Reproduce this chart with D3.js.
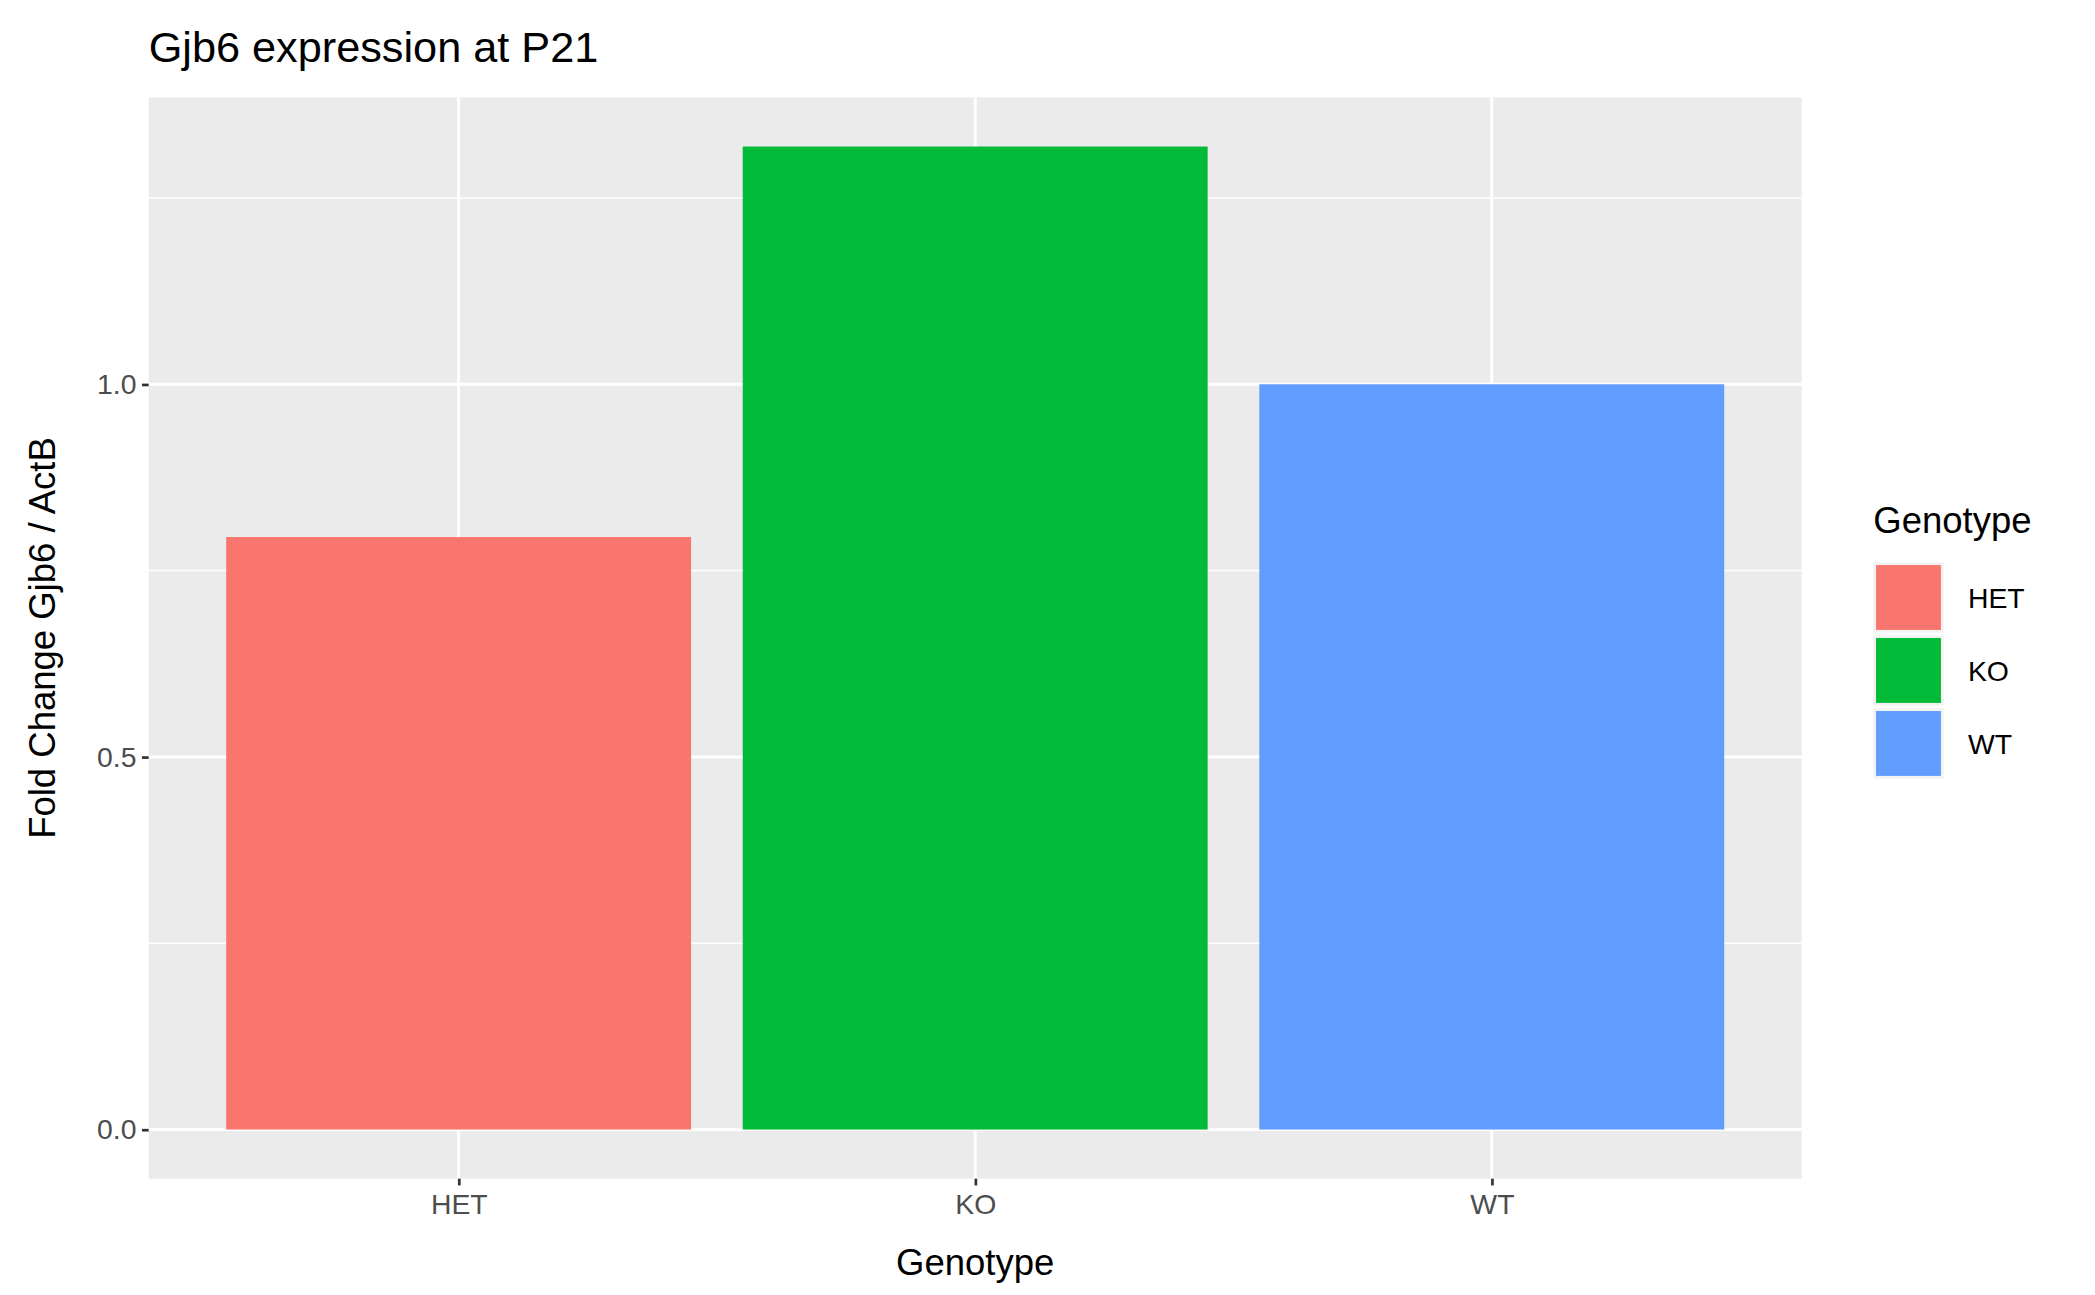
<!DOCTYPE html>
<html><head><meta charset="utf-8">
<script src="https://cdn.jsdelivr.net/npm/d3@7"></script>
<style>body{margin:0;background:#fff}text{font-family:"Liberation Sans",Arial,sans-serif}</style>
</head><body>
<svg id="c" width="2095" height="1295" viewBox="0 0 1550 958"></svg>
<script>
const categories = ["HET","KO","WT"];
const values = [0.795, 1.319, 1.0];
const colors = ["#F8766D","#00BA38","#619CFF"];
const yTicks = [0, 0.5, 1.0];
const yMinor = [0.25, 0.75, 1.25];

const svg = d3.select("#c");
const L=110,R=1333,T=72,B=872;
const x = d3.scaleBand().domain(categories).range([L,R]).paddingInner(0.1).paddingOuter(0.05);
// ggplot: band width=1 per category, expand 0.6 each side; bars 0.9
const xc = d3.scalePoint().domain(categories).range([L,R]).padding(0.6);
const step = xc.step();
const ymax = d3.max(values);
const y = d3.scaleLinear().domain([-0.05*ymax, ymax*1.05]).range([B,T]);

svg.append("rect").attr("x",L).attr("y",T).attr("width",R-L).attr("height",B-T).attr("fill","#EBEBEB");
const g = svg.append("g");
yMinor.forEach(v=>g.append("line").attr("x1",L).attr("x2",R).attr("y1",y(v)).attr("y2",y(v)).attr("stroke","#fff").attr("stroke-width",1.1));
yTicks.forEach(v=>g.append("line").attr("x1",L).attr("x2",R).attr("y1",y(v)).attr("y2",y(v)).attr("stroke","#fff").attr("stroke-width",2.2));
categories.forEach(c=>g.append("line").attr("x1",xc(c)).attr("x2",xc(c)).attr("y1",T).attr("y2",B).attr("stroke","#fff").attr("stroke-width",2.2));

svg.selectAll(".bar").data(categories).join("rect")
  .attr("x",(d)=>xc(d)-0.45*step).attr("width",0.9*step)
  .attr("y",(d,i)=>y(values[i])).attr("height",(d,i)=>y(0)-y(values[i]))
  .attr("fill",(d,i)=>colors[i]);

// y axis
const ya = svg.append("g").attr("transform",`translate(${L},0)`)
  .call(d3.axisLeft(y).tickValues(yTicks).tickFormat(d3.format(".1f")).tickSize(5).tickPadding(4));
ya.select(".domain").remove();
ya.selectAll("line").attr("stroke","#333").attr("stroke-width",2);
ya.selectAll("text").attr("fill","#4D4D4D").style("font-size","21px");
const xa = svg.append("g").attr("transform",`translate(0,${B})`)
  .call(d3.axisBottom(xc).tickSize(5).tickPadding(6));
xa.select(".domain").remove();
xa.selectAll("line").attr("stroke","#333").attr("stroke-width",2);
xa.selectAll("text").attr("fill","#4D4D4D").style("font-size","21px");

svg.append("text").attr("x",L).attr("y",46).style("font-size","32px").text("Gjb6 expression at P21");
svg.append("text").attr("x",(L+R)/2).attr("y",943).attr("text-anchor","middle").style("font-size","27px").text("Genotype");
svg.append("text").attr("transform",`translate(41,${(T+B)/2}) rotate(-90)`).attr("text-anchor","middle").style("font-size","27px").text("Fold Change Gjb6 / ActB");

// legend
svg.append("text").attr("x",1386).attr("y",394).style("font-size","27px").text("Genotype");
categories.forEach((c,i)=>{
  const yy=416+i*54;
  svg.append("rect").attr("x",1386).attr("y",yy).attr("width",52).attr("height",52).attr("fill","#F2F2F2");
  svg.append("rect").attr("x",1388).attr("y",yy+2).attr("width",48).attr("height",48).attr("fill",colors[i]);
  svg.append("text").attr("x",1456).attr("y",yy+34).style("font-size","21px").text(c);
});
</script></body></html>
